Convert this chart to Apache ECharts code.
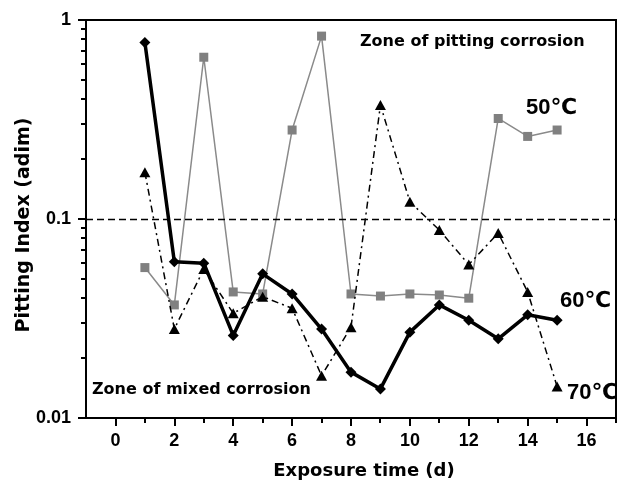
<!DOCTYPE html>
<html><head><meta charset="utf-8">
<script src="https://cdn.jsdelivr.net/npm/echarts@6/dist/echarts.min.js"></script>
<style>html,body{margin:0;padding:0;background:#fff}#c{width:618px;height:482px}</style>
</head><body><div id="c"></div>
<script>
// ---- data ----
const days = [1,2,3,4,5,6,7,8,9,10,11,12,13,14,15];
const pi50 = [0.057,0.037,0.65,0.043,0.042,0.28,0.83,0.042,0.041,0.042,0.0415,0.040,0.32,0.26,0.28];
const pi60 = [0.77,0.061,0.060,0.026,0.053,0.042,0.028,0.017,0.014,0.027,0.037,0.031,0.025,0.033,0.031];
const pi70 = [0.172,0.028,0.056,0.0336,0.0407,0.0356,0.0163,0.0286,0.374,0.122,0.088,0.059,0.085,0.043,0.0144];
const seriesNames = ['50\u2103','60\u2103','70\u2103'];
const xMajorTicks = [0,2,4,6,8,10,12,14,16];
const xMinorTicks = [1,3,5,7,9,11,13,15,17];
const yMajorTicks = [0.01,0.1,1];
const yMinorTicks = [0.02,0.03,0.04,0.05,0.06,0.07,0.08,0.09,0.2,0.3,0.4,0.5,0.6,0.7,0.8,0.9];
const threshold = 0.1;
const zoneTop = 'Zone of pitting corrosion';
const zoneBottom = 'Zone of mixed corrosion';

const pair = arr => days.map((d,i)=>[d, arr[i]]);
const tickFont = 'Liberation Sans';
const titleFont = 'DejaVu Sans';

const chart = echarts.init(document.getElementById('c'), null, {renderer:'canvas'});
chart.setOption({
  animation:false,
  backgroundColor:'#fff',
  grid:{left:86, right:2, top:20, bottom:64, containLabel:false, outerBoundsMode:'none',
        show:true, borderColor:'#000', borderWidth:2, backgroundColor:'transparent'},
  xAxis:{
    type:'value', min:-1, max:17, position:'bottom',
    axisLine:{show:true, onZero:false, lineStyle:{color:'#000', width:2}},
    axisTick:{show:true, inside:false, length:8, customValues:xMajorTicks, lineStyle:{color:'#000', width:2}},
    axisLabel:{customValues:xMajorTicks, margin:14, color:'#000', fontSize:18, fontWeight:'bold', fontFamily:tickFont},
    splitLine:{show:false},
    name:'Exposure time (d)', nameLocation:'middle', nameGap:44, nameMoveOverlap:false,
    nameTextStyle:{color:'#000', fontSize:18, fontWeight:'bold', fontFamily:titleFont, padding:[0,0,0,26]}
  },
  yAxis:{
    type:'log', logBase:10, min:yMajorTicks[0], max:yMajorTicks[yMajorTicks.length-1], position:'left',
    axisLine:{show:true, onZero:false, lineStyle:{color:'#000', width:2}},
    axisTick:{show:true, inside:false, length:8, lineStyle:{color:'#000', width:2}},
    axisLabel:{margin:15, color:'#000', fontSize:18, fontWeight:'bold', fontFamily:tickFont,
      formatter:v=>String(Number(Number(v).toPrecision(6)))},
    splitLine:{show:false},
    name:'Pitting Index (adim)', nameLocation:'middle', nameGap:52, nameMoveOverlap:false,
    nameTextStyle:{color:'#000', fontSize:19, fontWeight:'bold', fontFamily:titleFont, padding:[0,12,0,0]}
  },
  series:[
    {name:seriesNames[0], type:'line', data:pair(pi50),
     symbol:'rect', symbolSize:9, lineStyle:{color:'#8a8a8a', width:1.5},
     itemStyle:{color:'#808080'}, z:2},
    {name:seriesNames[2], type:'line', data:pair(pi70),
     symbol:'triangle', symbolSize:[11,10], lineStyle:{color:'#000', width:1.5, type:[7,4,2,4]},
     itemStyle:{color:'#000'}, z:3},
    {name:seriesNames[1], type:'line', data:pair(pi60),
     symbol:'diamond', symbolSize:11, lineStyle:{color:'#000', width:3.5},
     itemStyle:{color:'#000'}, z:4,
     markLine:{silent:true, symbol:['none','none'], label:{show:false},
       lineStyle:{color:'#000', width:1.3, type:[7,4]}, data:[{yAxis:threshold}]}}
  ]
});

// minor ticks placed through the axes' own scales
const x0 = chart.convertToPixel({xAxisIndex:0}, -1);
const y0 = chart.convertToPixel({yAxisIndex:0}, yMajorTicks[0]);
const g = [
  {type:'text', x:360, y:42, style:{text:zoneTop, font:'bold 16px "DejaVu Sans"', fill:'#000', align:'left', verticalAlign:'middle'}},
  {type:'text', x:92, y:390, style:{text:zoneBottom, font:'bold 16px "DejaVu Sans"', fill:'#000', align:'left', verticalAlign:'middle'}},
  {type:'text', x:526, y:108, style:{text:seriesNames[0], font:'bold 22px "Liberation Sans", "DejaVu Sans"', fill:'#000', align:'left', verticalAlign:'middle'}},
  {type:'text', x:560, y:301, style:{text:seriesNames[1], font:'bold 22px "Liberation Sans", "DejaVu Sans"', fill:'#000', align:'left', verticalAlign:'middle'}},
  {type:'text', x:567, y:393, style:{text:seriesNames[2], font:'bold 22px "Liberation Sans", "DejaVu Sans"', fill:'#000', align:'left', verticalAlign:'middle'}}
];
yMinorTicks.forEach(v=>{
  const py = Math.round(chart.convertToPixel({yAxisIndex:0}, v));
  g.push({type:'line', silent:true, shape:{x1:x0-5, y1:py, x2:x0, y2:py}, style:{stroke:'#000', lineWidth:2}});
});
xMinorTicks.forEach(v=>{
  const px = Math.round(chart.convertToPixel({xAxisIndex:0}, v));
  g.push({type:'line', silent:true, shape:{x1:px, y1:y0, x2:px, y2:y0+5}, style:{stroke:'#000', lineWidth:2}});
});
chart.setOption({graphic:g});
</script></body></html>
